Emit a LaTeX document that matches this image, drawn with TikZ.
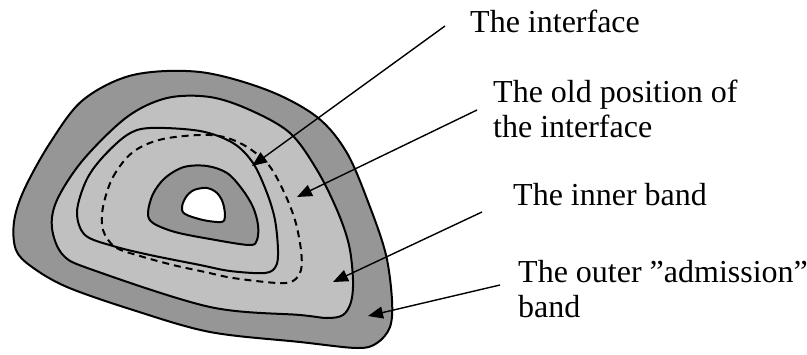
\documentclass[tikz,border=0pt]{standalone}
\usepackage{fontspec}
\setmainfont{Liberation Serif}
\usetikzlibrary{arrows.meta}
\definecolor{darkband}{RGB}{150,150,150}
\definecolor{lightband}{RGB}{192,192,192}
\begin{document}
\begin{tikzpicture}[x=1pt,y=-1pt,
  curve/.style={line width=2pt, line join=round},
  arr/.style={line width=1.4pt, -{Triangle[length=15pt,width=12pt]}},
  lbl/.style={inner sep=0pt, anchor=base west, align=left, font=\fontsize{32}{34.5}\selectfont}]
\useasboundingbox (0,0) rectangle (807,354);
% outer admission band
\draw[curve, fill=darkband] plot[smooth cycle, tension=0.55] coordinates {
  (14,222) (24,190) (50,143) (83,100) (133,75) (200,72) (267,90) (317,117)
  (347,153) (370,207) (386,255) (392,300) (390,327) (377,343) (357,348)
  (300,342) (210,332) (133,310) (67,287) (32,267) (16,250)};
% inner band
\draw[curve, fill=lightband] plot[smooth cycle, tension=0.55] coordinates {
  (52,228) (57,200) (83,160) (127,117) (167,98) (210,97) (250,110) (290,133)
  (317,170) (337,210) (349,245) (353,280) (351,302) (343,315) (327,318)
  (300,315) (210,307) (93,270) (63,255)};
% interface
\draw[curve] plot[smooth cycle, tension=0.55] coordinates {
  (77,212) (86,181) (102,158) (127,135) (150,128) (200,131) (233,143)
  (253,163) (267,193) (275,220) (278,250) (276,266) (265,273) (230,271)
  (200,265) (150,255) (113,246) (85,235)};
% old interface position
\draw[curve, dash pattern=on 7pt off 5pt] plot[smooth cycle, tension=0.55] coordinates {
  (103,207) (113,177) (133,152) (163,139) (210,135) (240,143) (267,163)
  (283,190) (295,220) (301,250) (301,270) (293,281) (277,283) (233,278)
  (205,272) (173,265) (140,256) (115,247) (103,230)};
% inner dark blob
\draw[curve, fill=darkband] plot[smooth cycle, tension=0.55] coordinates {
  (148,213) (153,194) (165,178) (184,167) (207,166) (227,173) (242,189)
  (253,207) (258,225) (257,240) (249,245) (210,239) (175,232) (153,223)};
% white hole
\draw[curve, fill=white] plot[smooth cycle, tension=0.55] coordinates {
  (182,207) (186,197) (194,190) (207,188) (217,193) (223,203) (225,217)
  (221,222) (203,220) (185,214)};
% labels
\node[lbl] (t1) at (470,32) {The interface};
\node[lbl] (t2) at (493,137) {The old position of\\the interface};
\node[lbl] (t3) at (513,205) {The inner band};
\node[lbl] (t4) at (518,317) {The outer ”admission”\\band};
% arrow ends
\coordinate (s1) at (445,26);  \coordinate (e1) at (252,166);
\coordinate (s2) at (477,110); \coordinate (e2) at (297,197);
\coordinate (s3) at (482,212); \coordinate (e3) at (333,282);
\coordinate (s4) at (500,285); \coordinate (e4) at (368,316);
\draw[arr] (s1) -- (e1);
\draw[arr] (s2) -- (e2);
\draw[arr] (s3) -- (e3);
\draw[arr] (s4) -- (e4);
\end{tikzpicture}
\end{document}
